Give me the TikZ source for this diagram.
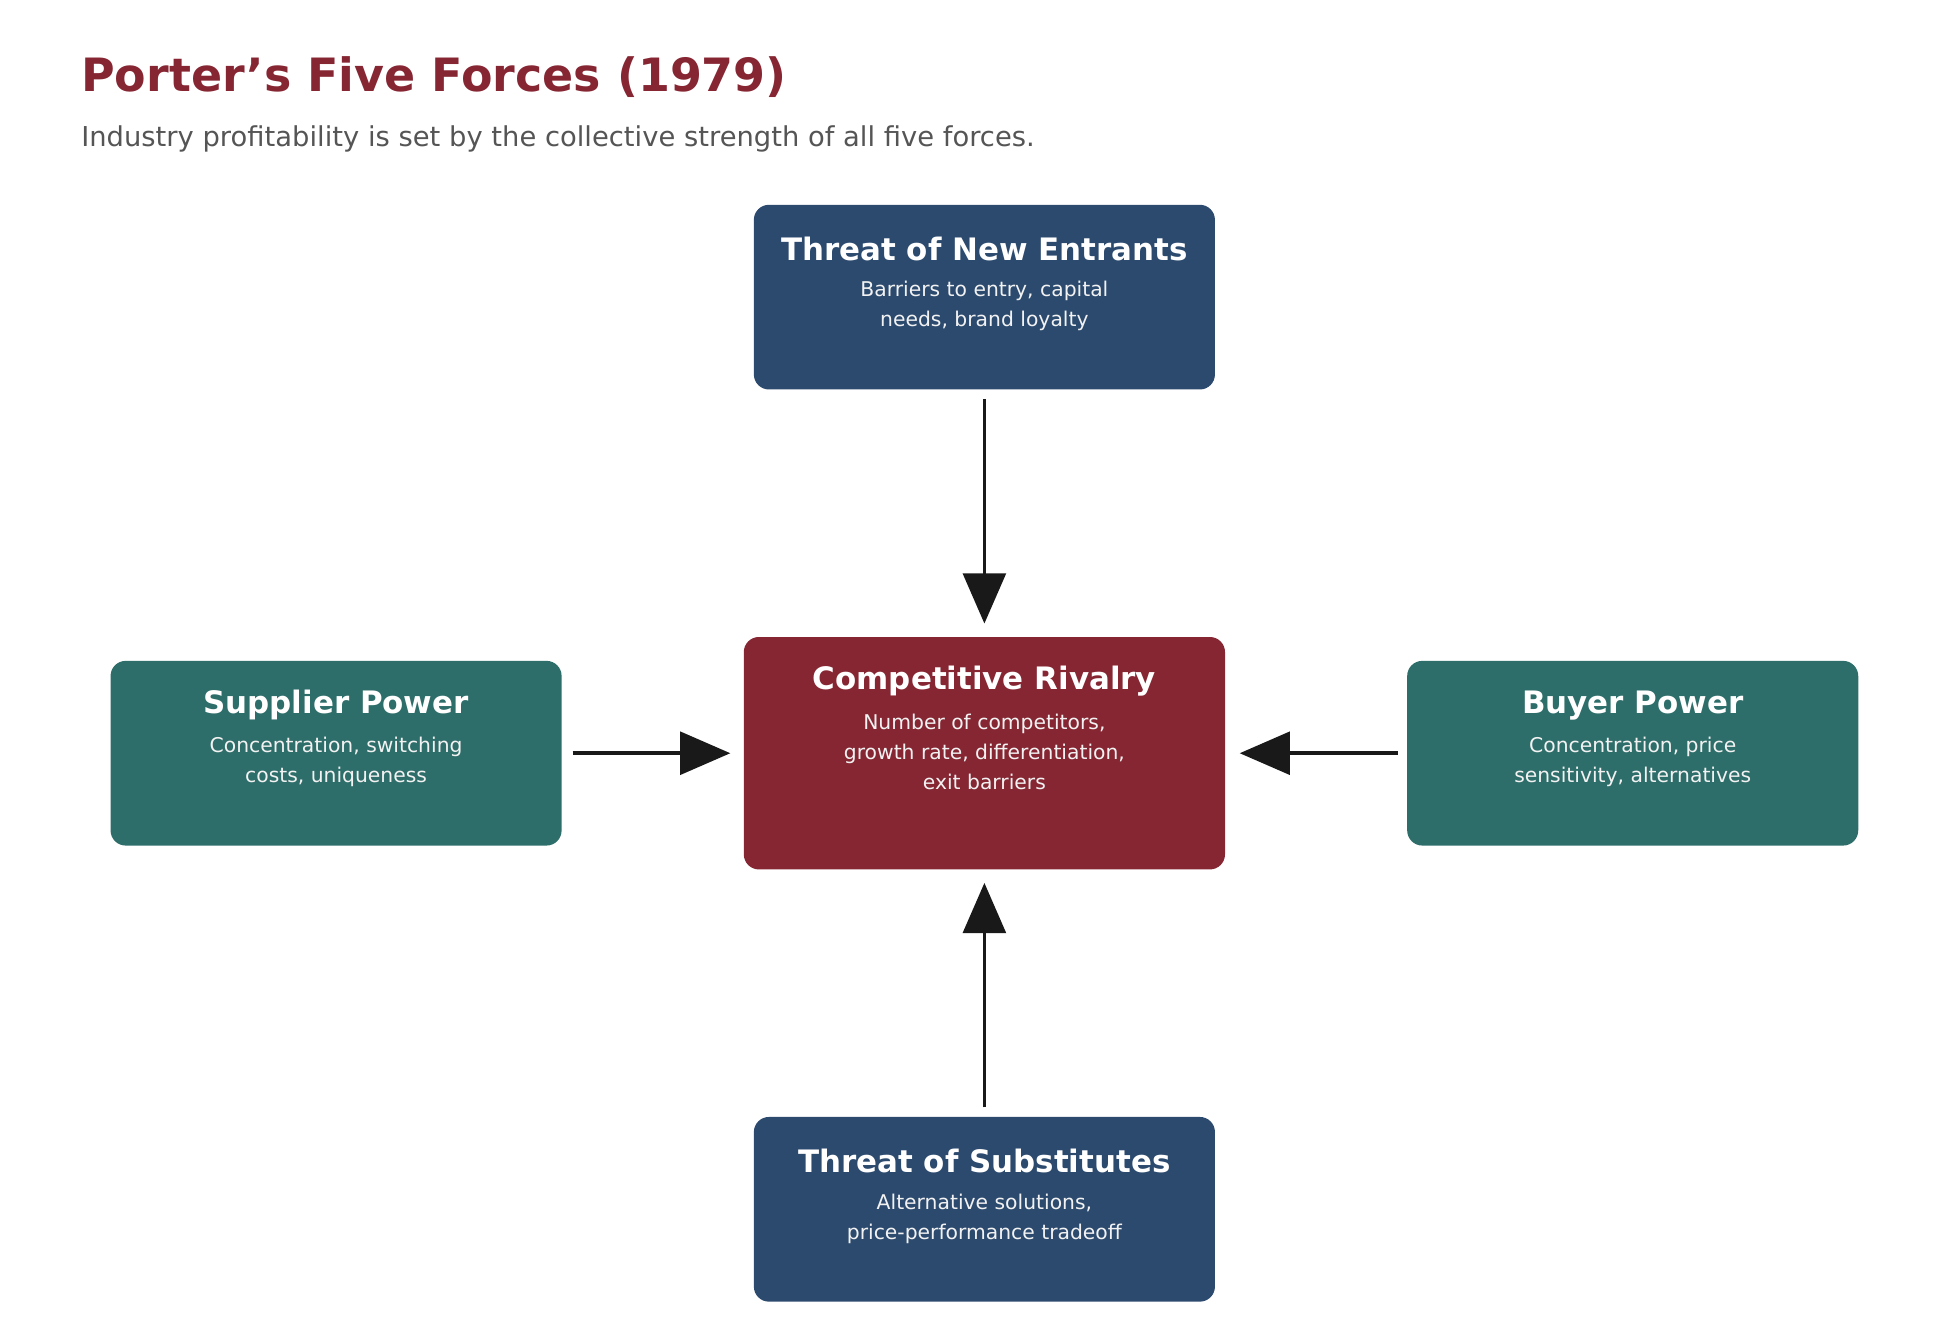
\documentclass[tikz,border=0pt]{standalone}
\usepackage{fontspec}
\setmainfont{DejaVu Sans}
\usetikzlibrary{arrows.meta}
\definecolor{navy}{HTML}{2C4A6E}
\definecolor{wine}{HTML}{862633}
\definecolor{teal}{HTML}{2E6E6A}
\definecolor{subgray}{HTML}{555555}
\definecolor{boxtext}{HTML}{F2F2F2}
\tikzset{
  force/.style={draw=none, fill=#1, rounded corners=1.2mm, minimum width=36.7mm, minimum height=14.7mm, inner sep=0pt},
  head/.style={text=white, font=\fontsize{7}{8}\selectfont\bfseries, inner sep=0pt},
  body/.style={text=boxtext, font=\fontsize{4.6}{6.8}\selectfont, align=center, anchor=north, inner sep=0pt},
  push/.style={draw=black!90, line width=0.85pt, -{Triangle[length=4mm,width=3.4mm]}}
}
\begin{document}
\begin{tikzpicture}[x=0.1mm, y=-0.1mm]
  \useasboundingbox (0,0) rectangle (1560,1050);
  % title
  \node[anchor=base west, inner sep=0pt, text=wine, font=\fontsize{10.4}{12}\selectfont\bfseries] (title) at (64,73) {Porter’s Five Forces (1979)};
  \node[anchor=base west, inner sep=0pt, text=subgray, font=\fontsize{6.2}{7}\selectfont] (sub) at (64,117) {Industry profitability is set by the collective strength of all five forces.};
  % boxes
  \node[force=navy] (entr) at (783.5,236.5) {};
  \node[force=wine, minimum width=38.3mm, minimum height=18.5mm] (rival) at (783.5,599.5) {};
  \node[force=teal, minimum width=35.9mm] (supp) at (267.5,599.5) {};
  \node[force=teal, minimum width=35.9mm] (buy) at (1299.5,599.5) {};
  \node[force=navy] (subst) at (783.5,962.5) {};
  % texts
  \node[head] at ([yshift=-3.6mm]entr.north) {Threat of New Entrants};
  \node[body] at ([yshift=-6.1mm]entr.north) {Barriers to entry, capital\\needs, brand loyalty};
  \node[head] at ([yshift=-3.6mm]rival.north) {Competitive Rivalry};
  \node[body] at ([yshift=-6.1mm]rival.north) {Number of competitors,\\growth rate, differentiation,\\exit barriers};
  \node[head] at ([yshift=-3.6mm]supp.north) {Supplier Power};
  \node[body] at ([yshift=-6.1mm]supp.north) {Concentration, switching\\costs, uniqueness};
  \node[head] at ([yshift=-3.6mm]buy.north) {Buyer Power};
  \node[body] at ([yshift=-6.1mm]buy.north) {Concentration, price\\sensitivity, alternatives};
  \node[head] at ([yshift=-3.6mm]subst.north) {Threat of Substitutes};
  \node[body] at ([yshift=-6.1mm]subst.north) {Alternative solutions,\\price-performance tradeoff};
  % forces
  \draw[push, shorten <=0.7mm, shorten >=1mm] (entr) -- (rival);
  \draw[push, shorten <=0.7mm, shorten >=1mm] (subst) -- (rival);
  \draw[push, shorten <=0.8mm, shorten >=1mm] (supp) -- (rival);
  \draw[push, shorten <=0.7mm, shorten >=1.1mm] (buy) -- (rival);
\end{tikzpicture}
\end{document}
